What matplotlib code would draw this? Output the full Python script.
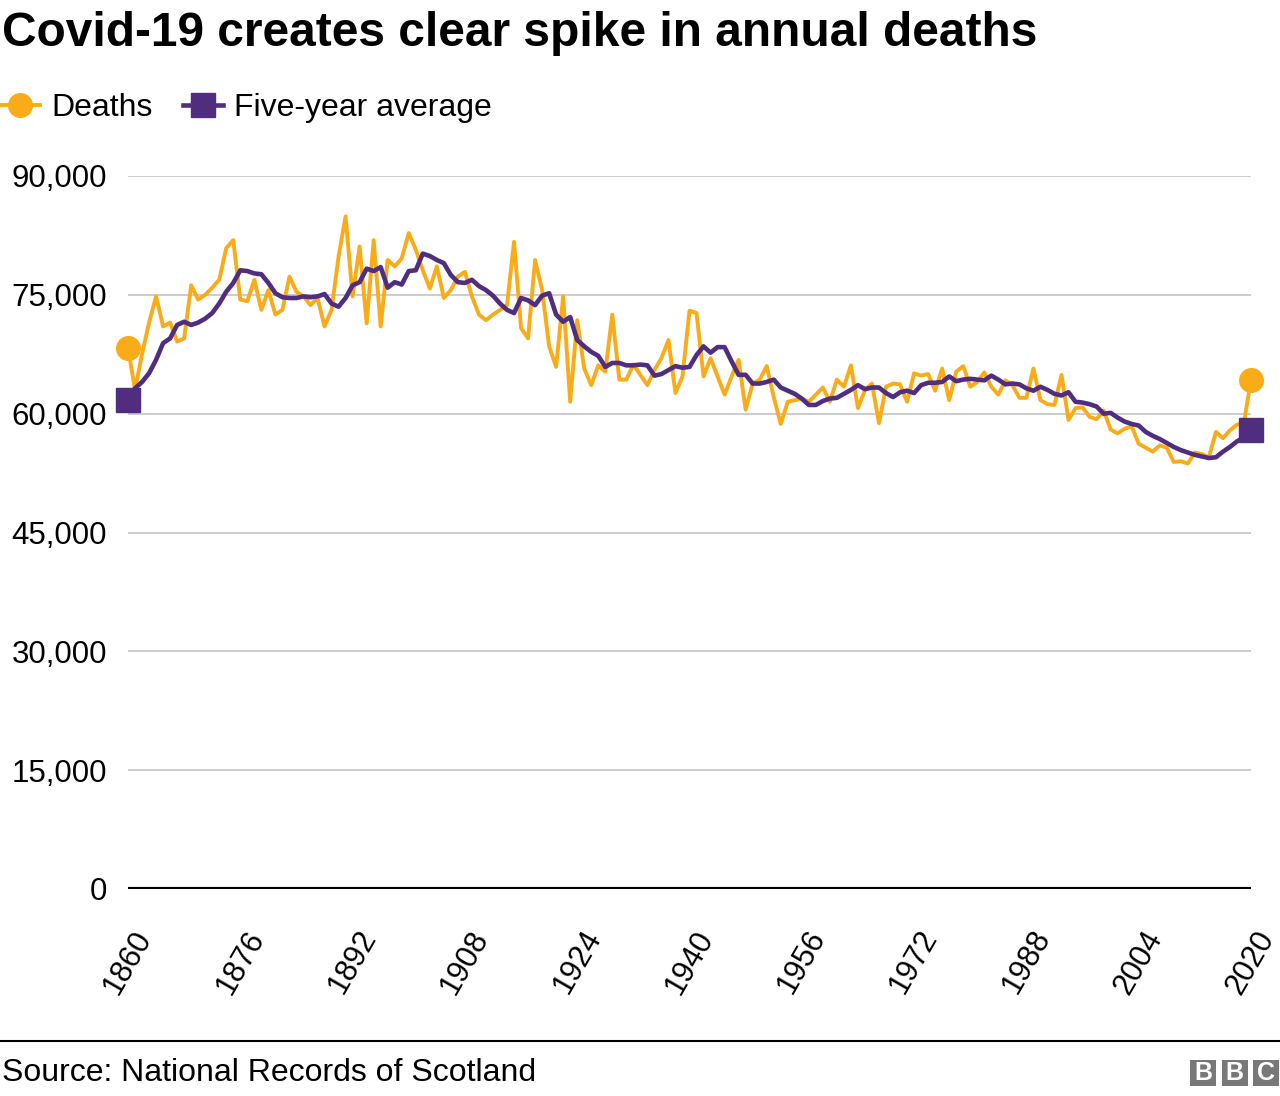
#!/usr/bin/env python3
'''Annual deaths in Scotland 1860-2020 with five-year average (BBC style).'''

import numpy as np
import matplotlib
matplotlib.use('Agg')
import matplotlib.pyplot as plt
from matplotlib.lines import Line2D
from matplotlib.patches import Rectangle

plt.rcParams['font.family'] = ['Liberation Sans', 'DejaVu Sans']

years = list(range(1860, 2021))

deaths = [
    68300, 63000, 67500, 71500, 74800, 71000, 71500, 69100, 69500, 76200,  # 1860s
    74400, 75000, 75900, 76900, 80900, 81900, 74400, 74200, 76900, 73100,  # 1870s
    75600, 72500, 73100, 77300, 75400, 74800, 73700, 74600, 71000, 73100,  # 1880s
    79800, 84900, 74800, 81100, 71400, 81900, 71000, 79400, 78600, 79600,  # 1890s
    82800, 80700, 78100, 75800, 78600, 74600, 75600, 77300, 77900, 74800,  # 1900s
    72500, 71800, 72500, 73100, 73700, 81700, 70800, 69500, 79400, 75600,  # 1910s
    68500, 65900, 74800, 61500, 71800, 65700, 63600, 66100, 65300, 72500,  # 1920s
    64300, 64300, 66200, 64900, 63600, 65500, 67000, 69300, 62600, 64700,  # 1930s
    73000, 72700, 64700, 67000, 64700, 62400, 64700, 66800, 60500, 63800,  # 1940s
    64300, 66000, 62100, 58700, 61500, 61700, 61900, 61500, 62400, 63300,  # 1950s
    61500, 64300, 63400, 66100, 60700, 63000, 63800, 58800, 63400, 63800,  # 1960s
    63700, 61500, 65100, 64800, 65000, 62900, 65700, 61700, 65300, 66000,  # 1970s
    63400, 64000, 65200, 63400, 62400, 64200, 63600, 62000, 62000, 65700,  # 1980s
    61700, 61200, 61100, 64900, 59200, 60700, 60800, 59600, 59300, 60400,  # 1990s
    58000, 57500, 58100, 58400, 56200, 55700, 55200, 56000, 55700, 53900,  # 2000s
    54000, 53700, 55100, 54900, 54500, 57700, 56900, 57900, 58600, 58900,  # 2010s
    64300,                                                                 # 2020
]

five_year_avg = [
    61700, 63200, 64000, 65100, 66800, 68900, 69500, 71200, 71600, 71200,
    71500, 72000, 72700, 73900, 75400, 76500, 78100, 78000, 77700, 77600,
    76500, 75200, 74700, 74600, 74600, 74800, 74700, 74800, 75100, 73900,
    73500, 74600, 76200, 76600, 78300, 78000, 78500, 75900, 76600, 76300,
    78000, 78100, 80200, 79900, 79400, 79000, 77500, 76600, 76500, 76900,
    76100, 75600, 74900, 73900, 73100, 72700, 74600, 74300, 73700, 74900,
    75200, 72500, 71600, 72200, 69300, 68500, 67800, 67300, 65900, 66400,
    66400, 66100, 66100, 66200, 66100, 64800, 65000, 65500, 66000, 65800,
    65900, 67400, 68500, 67700, 68400, 68400, 66600, 64900, 64900, 63800,
    63800, 64000, 64300, 63300, 62900, 62500, 61900, 61100, 61100, 61600,
    61900, 62000, 62500, 63000, 63600, 63100, 63300, 63300, 62600, 62100,
    62700, 62900, 62600, 63600, 63900, 63900, 64000, 64700, 64100, 64300,
    64400, 64300, 64200, 64800, 64300, 63700, 63800, 63700, 63200, 62900,
    63400, 63000, 62500, 62300, 62700, 61500, 61400, 61200, 60900, 60000,
    60100, 59500, 59000, 58700, 58500, 57700, 57200, 56800, 56300, 55800,
    55400, 55100, 54800, 54600, 54400, 54500, 55200, 55800, 56500, 57000,
    57900,
]

y_ticks = [0, 15000, 30000, 45000, 60000, 75000, 90000]
x_ticks = list(range(1860, 2021, 16))

ORANGE = '#FAAB18'
PURPLE = '#502D7E'

W, H = 1280, 1096
fig = plt.figure(figsize=(W / 100, H / 100), dpi=100)
ax = fig.add_axes([128 / W, 207 / H, (1251 - 128) / W, (889 - 176) / H])

for y in y_ticks[1:]:
    ax.axhline(y, color='#cccccc', lw=1.4, zorder=1)
ax.axhline(0, color='#000000', lw=3, zorder=2)

last = len(years) - 1
ax.plot(years, deaths, color=ORANGE, lw=2.8, marker='o', ms=17,
        markevery=[0, last], clip_on=False, zorder=3)
ax.plot(years, five_year_avg, color=PURPLE, lw=3.3, marker='s', ms=17,
        markevery=[0, last], clip_on=False, zorder=4)

ax.set_xlim(1860, 2020)
ax.set_ylim(0, 90000)
for s in ax.spines.values():
    s.set_visible(False)

ax.set_yticks(y_ticks)
ax.set_yticklabels(['{:,}'.format(v) for v in y_ticks])
ax.tick_params(axis='y', length=0, pad=15, labelsize=22.5)
ax.set_xticks(x_ticks)
ax.set_xticklabels([str(v) for v in x_ticks], rotation=60, ha='center', va='top')
ax.tick_params(axis='x', length=0, pad=26, labelsize=22)

fig.text(2 / W, 1 - 46 / H, 'Covid-19 creates clear spike in annual deaths',
         fontsize=34.5, fontweight='bold', va='baseline', ha='left')

handles = [
    Line2D([], [], color=ORANGE, lw=2.8, marker='o', ms=17),
    Line2D([], [], color=PURPLE, lw=3.3, marker='s', ms=17),
]
fig.legend(handles, ['Deaths', 'Five-year average'], loc='center left',
           bbox_to_anchor=(0, 1 - 108 / H), ncol=2, frameon=False,
           fontsize=23, handlelength=1.25, handletextpad=0.35,
           columnspacing=0.95, borderpad=0, borderaxespad=0)

fig.add_artist(Line2D([0, 1], [1 - 1041 / H] * 2, color='#000000', lw=1.5))
fig.text(2 / W, 1 - 1081 / H, 'Source: National Records of Scotland',
         fontsize=23, va='baseline', ha='left')

for i, letter in enumerate('BBC'):
    x0 = 1190 + i * 31.5
    fig.add_artist(Rectangle((x0 / W, 1 - 1086 / H), 26 / W, 26 / H,
                             transform=fig.transFigure, color='#787878', lw=0))
    fig.text((x0 + 13) / W, 1 - 1073 / H, letter, color='white', fontsize=18,
             fontweight='bold', ha='center', va='center')

fig.savefig('out.png', dpi=100)
